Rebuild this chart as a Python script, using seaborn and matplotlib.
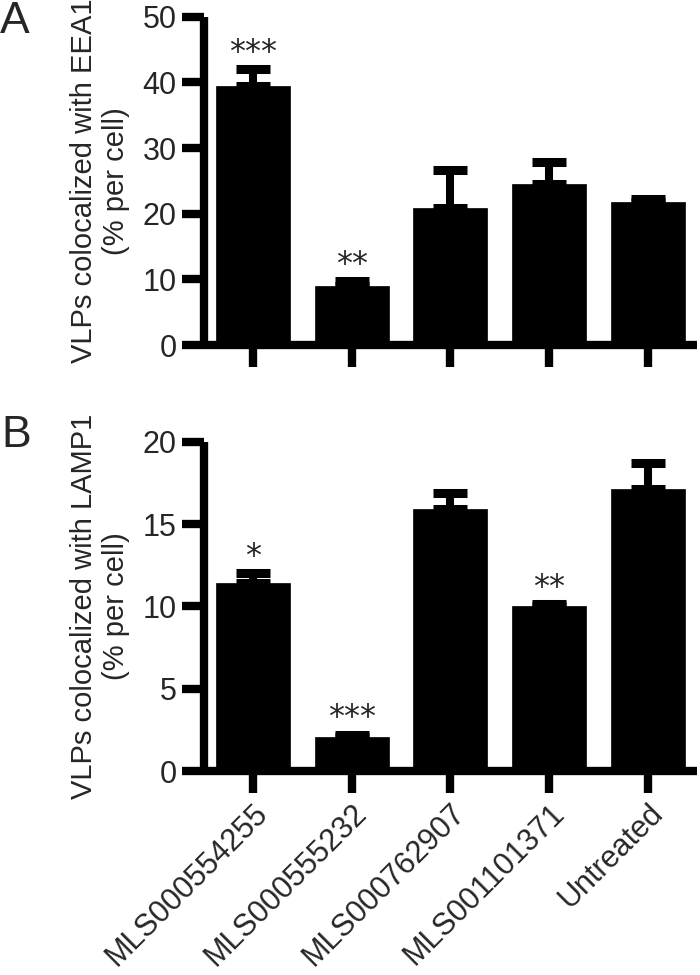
import matplotlib
matplotlib.use("Agg")
import matplotlib.pyplot as plt
import seaborn as sns
import pandas as pd

categories = ["MLS000554255", "MLS000555232", "MLS000762907", "MLS001101371", "Untreated"]
eea1 = [39.5, 9.0, 20.8, 24.5, 21.8]
eea1_err = [2.5, 0.8, 5.9, 3.3, 0.5]
eea1_sig = ["***", "**", "", "", ""]
lamp1 = [11.45, 2.07, 15.9, 10.03, 17.12]
lamp1_err = [0.55, 0.15, 1.0, 0.1, 1.6]
lamp1_sig = ["*", "***", "", "**", ""]
eea1_ticks = [0, 10, 20, 30, 40, 50]
lamp1_ticks = [0, 5, 10, 15, 20]

sns.set_theme(style="white")
plt.rcParams["font.family"] = ["Liberation Sans", "DejaVu Sans"]

fig = plt.figure(figsize=(7, 9.75), dpi=100)
axA = fig.add_axes([0.291, 0.646, 0.705, 0.337])
axB = fig.add_axes([0.291, 0.209, 0.705, 0.338])


def panel(ax, vals, errs, sig, ticks, ylabel, show_labels):
    df = pd.DataFrame({"cat": categories, "val": vals})
    sns.barplot(data=df, x="cat", y="val", color="black", width=0.75,
                errorbar=None, ax=ax, saturation=1, edgecolor="black", linewidth=0.5)
    xs = list(range(len(categories)))
    ax.errorbar(xs, vals, yerr=[[0] * len(errs), errs], fmt="none", ecolor="black",
                elinewidth=5.8, capsize=12, capthick=6.5, zorder=3)
    for x, v, e, s in zip(xs, vals, errs, sig):
        if s:
            ax.annotate(s, (x, v + e), xytext=(0, 12), textcoords="offset points",
                        ha="center", va="center", fontsize=23,
                        family=["DejaVu Sans"])
    ax.set_xlim(-0.5, 4.5)
    ax.set_ylim(ticks[0], ticks[-1])
    ax.set_yticks(ticks)
    ax.set_yticklabels([str(t) for t in ticks], fontsize=22)
    ax.set_xlabel("")
    ax.set_ylabel(ylabel, fontsize=21, labelpad=9, linespacing=1.2)
    for side in ["top", "right"]:
        ax.spines[side].set_visible(False)
    for side in ["left", "bottom"]:
        ax.spines[side].set_linewidth(6)
        ax.spines[side].set_color("black")
        ax.spines[side].set_capstyle("butt")
    ax.tick_params(axis="both", which="major", direction="out", length=15.5,
                   width=6, color="black", pad=4)
    ax.tick_params(axis="y", left=True, labelsize=22)
    ax.tick_params(axis="x", bottom=True)
    ax.set_xticks(xs)
    if show_labels:
        ax.set_xticklabels(categories, rotation=45, ha="right",
                           rotation_mode="anchor", fontsize=22)
    else:
        ax.set_xticklabels([])


panel(axA, eea1, eea1_err, eea1_sig, eea1_ticks,
      "VLPs colocalized with EEA1\n(% per cell)", False)
panel(axB, lamp1, lamp1_err, lamp1_sig, lamp1_ticks,
      "VLPs colocalized with LAMP1\n(% per cell)", True)

fig.text(0.0, 0.966, "A", fontsize=32, ha="left", va="baseline")
fig.text(0.002, 0.5415, "B", fontsize=32, ha="left", va="baseline")

fig.savefig("out.png", dpi=100, facecolor="white")
